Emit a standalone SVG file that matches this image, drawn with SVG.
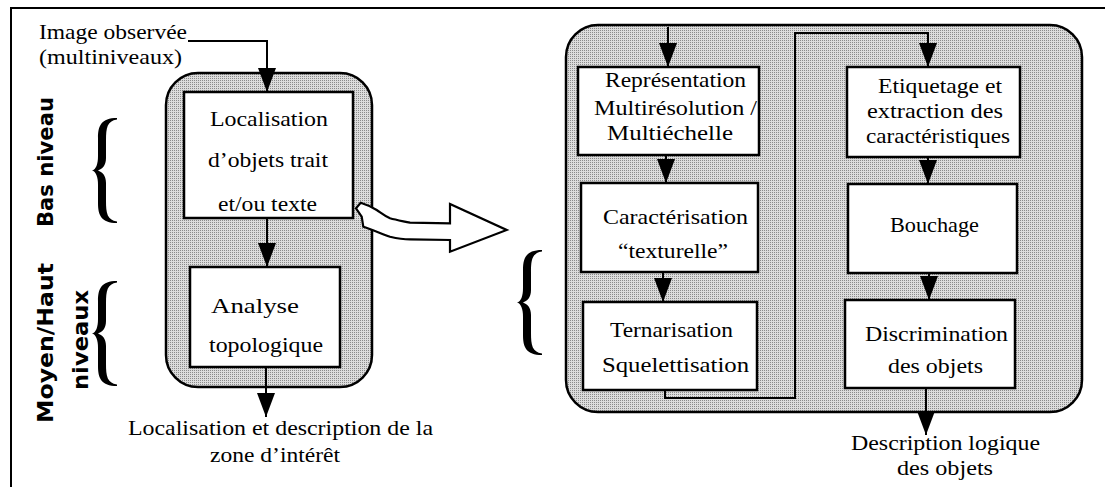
<svg xmlns="http://www.w3.org/2000/svg" width="1105" height="487" viewBox="0 0 1105 487" font-family="Liberation Serif, DejaVu Serif, serif">
<style>
text.t{font-family:Liberation Serif, DejaVu Serif, serif;font-size:21px;fill:#000}
text.r{font-family:DejaVu Sans, sans-serif;font-weight:bold;font-size:21px;fill:#000}
.box{fill:#fff;stroke:#000;stroke-width:2.5}
.cont{fill:url(#dots);stroke:#000;stroke-width:2.5}
.c{fill:none;stroke:#000;stroke-width:2}
</style>
<defs>
<pattern id="dots" width="2" height="2" patternUnits="userSpaceOnUse">
<rect width="2" height="2" fill="#dcdcdc"/>
<rect width="1" height="1" fill="#8a8a8a"/>
</pattern>
<marker id="ah" markerWidth="24" markerHeight="18" refX="24" refY="9" orient="auto" markerUnits="userSpaceOnUse">
<path d="M0,0 L24,9 L0,18 z" fill="#000"/>
</marker>
<path id="brace" d="M25,0 C9,0 6,8 6,20 L6,38 C6,46 4,51.5 0,52.5 C4,53.5 6,59 6,67 L6,85 C6,97 9,105 25,105 L25,103.5 C15,102 14,95 14,83 L14,65 C14,57 10,54 6,52.5 C10,51 14,48 14,40 L14,22 C14,10 15,3 25,1.5 Z" fill="#000"/>
</defs>
<rect width="1105" height="487" fill="#fff"/>
<g id="frame">
<path d="M11,487 L11,8 L1105,8" fill="none" stroke="#000" stroke-width="2"/>
</g>
<g id="labels">
<text class="t" x="39" y="39" textLength="148" lengthAdjust="spacingAndGlyphs">Image observée</text>
<text class="t" x="39" y="64" textLength="143" lengthAdjust="spacingAndGlyphs">(multiniveaux)</text>
<text class="r" transform="translate(53,162) rotate(-90)" text-anchor="middle" textLength="130" lengthAdjust="spacingAndGlyphs">Bas niveau</text>
<text class="r" transform="translate(53,343) rotate(-90)" text-anchor="middle" textLength="160" lengthAdjust="spacingAndGlyphs">Moyen/Haut</text>
<text class="r" transform="translate(88,340) rotate(-90)" text-anchor="middle" textLength="100" lengthAdjust="spacingAndGlyphs">niveaux</text>
<use href="#brace" x="92" y="118"/>
<use href="#brace" x="92" y="281"/>
<use href="#brace" x="517" y="250"/>
<text class="t" x="128" y="435" textLength="305" lengthAdjust="spacingAndGlyphs">Localisation et description de la</text>
<text class="t" x="210" y="462" textLength="130" lengthAdjust="spacingAndGlyphs">zone d’intérêt</text>
<text class="t" x="851" y="450" textLength="189" lengthAdjust="spacingAndGlyphs">Description logique</text>
<text class="t" x="897" y="475" textLength="96" lengthAdjust="spacingAndGlyphs">des objets</text>
</g>
<g id="container-left">
<rect class="cont" x="166" y="73" width="206" height="314" rx="32" ry="32"/>
</g>
<g id="container-right">
<rect class="cont" x="566" y="25" width="516" height="387" rx="32" ry="32"/>
</g>
<g id="node-localisation">
<rect class="box" x="184" y="92" width="169" height="126"/>
<text class="t" x="210" y="126" textLength="118" lengthAdjust="spacingAndGlyphs">Localisation</text>
<text class="t" x="208" y="167" textLength="120" lengthAdjust="spacingAndGlyphs">d’objets trait</text>
<text class="t" x="218" y="211" textLength="99" lengthAdjust="spacingAndGlyphs">et/ou texte</text>
</g>
<g id="node-analyse">
<rect class="box" x="190" y="267" width="150" height="100"/>
<text class="t" x="211" y="313" textLength="88" lengthAdjust="spacingAndGlyphs">Analyse</text>
<text class="t" x="209" y="352" textLength="114" lengthAdjust="spacingAndGlyphs">topologique</text>
</g>
<g id="node-representation">
<rect class="box" x="578" y="67" width="181" height="88"/>
<text class="t" x="605" y="87" textLength="141" lengthAdjust="spacingAndGlyphs">Représentation</text>
<text class="t" x="594" y="115" textLength="163" lengthAdjust="spacingAndGlyphs">Multirésolution /</text>
<text class="t" x="607" y="140" textLength="126" lengthAdjust="spacingAndGlyphs">Multiéchelle</text>
</g>
<g id="node-caracterisation">
<rect class="box" x="581" y="183" width="177" height="89"/>
<text class="t" x="603" y="224" textLength="145" lengthAdjust="spacingAndGlyphs">Caractérisation</text>
<text class="t" x="618" y="258" textLength="110" lengthAdjust="spacingAndGlyphs">“texturelle”</text>
</g>
<g id="node-ternarisation">
<rect class="box" x="583" y="302" width="174" height="88"/>
<text class="t" x="610" y="337" textLength="123" lengthAdjust="spacingAndGlyphs">Ternarisation</text>
<text class="t" x="602" y="372" textLength="147" lengthAdjust="spacingAndGlyphs">Squelettisation</text>
</g>
<g id="node-etiquetage">
<rect class="box" x="847" y="67" width="173" height="90"/>
<text class="t" x="878" y="93" textLength="124" lengthAdjust="spacingAndGlyphs">Etiquetage et</text>
<text class="t" x="867" y="118" textLength="136" lengthAdjust="spacingAndGlyphs">extraction des</text>
<text class="t" x="866" y="143" textLength="144" lengthAdjust="spacingAndGlyphs">caractéristiques</text>
</g>
<g id="node-bouchage">
<rect class="box" x="848" y="184" width="169" height="89"/>
<text class="t" x="890" y="232" textLength="89" lengthAdjust="spacingAndGlyphs">Bouchage</text>
</g>
<g id="node-discrimination">
<rect class="box" x="845" y="300" width="170" height="88"/>
<text class="t" x="865" y="341" textLength="143" lengthAdjust="spacingAndGlyphs">Discrimination</text>
<text class="t" x="888" y="373" textLength="95" lengthAdjust="spacingAndGlyphs">des objets</text>
</g>
<g id="connectors">
<polyline class="c" points="188,41 267,41 267,92" marker-end="url(#ah)"/>
<line class="c" x1="267" y1="218" x2="267" y2="267" marker-end="url(#ah)"/>
<line class="c" x1="266" y1="367" x2="266" y2="417" marker-end="url(#ah)"/>
<line class="c" x1="668" y1="27" x2="668" y2="67" marker-end="url(#ah)"/>
<line class="c" x1="666" y1="155" x2="666" y2="183" marker-end="url(#ah)"/>
<line class="c" x1="663" y1="272" x2="663" y2="302" marker-end="url(#ah)"/>
<polyline class="c" points="665,390 665,398 795,398 795,33 928,33 928,67" marker-end="url(#ah)"/>
<line class="c" x1="928" y1="157" x2="928" y2="184" marker-end="url(#ah)"/>
<line class="c" x1="929" y1="273" x2="929" y2="300" marker-end="url(#ah)"/>
<line class="c" x1="926" y1="388" x2="926" y2="435" marker-end="url(#ah)"/>
<path id="big-arrow" d="M360.7,202.7 L356,208.3 L361.7,216.7 L363.3,226.7 C370,229 380,233 390,236.7 C398,238.5 404,239.3 410,239.3 L450,240 L450,251.7 L506.7,230 L450,204 L450,223.3 L410,222.7 C402,221 396,220 390,218.3 C384,215.5 380,212 376.7,210 C370,206 365,204 360.7,202.7 Z" fill="#fff" stroke="#000" stroke-width="2.2" stroke-linejoin="miter"/>
</g>
</svg>
